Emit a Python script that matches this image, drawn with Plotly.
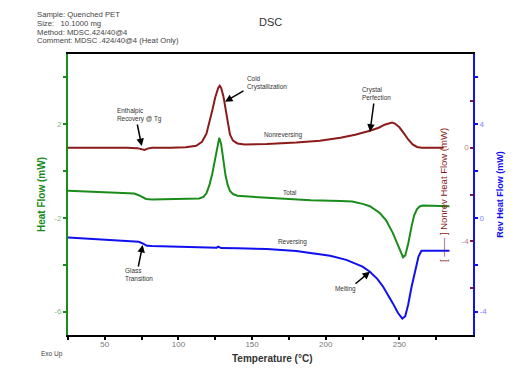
import plotly.graph_objects as go

# ---------------- data ----------------
nonrev_T = [25, 40, 55, 65, 72, 75, 77, 79, 82, 95, 105, 112, 116, 119, 121, 123, 125, 127, 128,
            129, 130.5, 132, 133.5, 135, 137, 140, 145, 160, 180, 196, 210, 220, 230, 236, 240,
            243, 245, 247, 250, 253, 256, 259, 262, 265, 280]
nonrev_V = [0.0, 0.0, 0.02, 0.0, -0.02, -0.08, -0.1, -0.04, 0.0, 0.0, 0.02, 0.08, 0.25, 0.6, 1.05,
            1.6, 2.15, 2.55, 2.64, 2.55, 2.2, 1.6, 1.0, 0.55, 0.3, 0.18, 0.14, 0.16, 0.22, 0.3,
            0.42, 0.55, 0.72, 0.85, 0.98, 1.05, 1.07, 1.03, 0.87, 0.62, 0.35, 0.14, 0.03, 0.0, 0.0]

total_T = [25, 40, 55, 66, 70, 73, 76, 78, 82, 100, 110, 114, 117, 119, 121, 123, 125, 126.5,
           127.7, 129, 130.5, 132, 133.5, 135, 137, 140, 150, 170, 190, 210, 218, 225, 230, 236.7,
           241, 245.6, 249, 252.5, 254, 256, 258.3, 260, 262, 264, 266, 284]
total_V = [-0.84, -0.87, -0.9, -0.93, -0.96, -1.03, -1.13, -1.19, -1.21, -1.2, -1.19, -1.17, -1.1,
           -0.95, -0.6, -0.1, 0.55, 1.1, 1.42, 1.15, 0.5, -0.2, -0.6, -0.85, -0.98, -1.05, -1.1,
           -1.18, -1.25, -1.28, -1.3, -1.4, -1.5, -1.79, -2.1, -2.65, -3.2, -3.68, -3.6, -3.1,
           -2.36, -1.9, -1.62, -1.5, -1.47, -1.5]

rev_T = [25, 40, 55, 70, 73, 76, 78.6, 82, 100, 120, 126, 127, 128, 129, 140, 160, 180, 191, 203,
         214, 225, 230, 235, 239, 242.5, 245.6, 249, 252, 254, 256, 258.3, 261, 263, 265, 284]
rev_V = [-0.84, -0.9, -0.95, -1.0, -1.02, -1.1, -1.19, -1.2, -1.22, -1.25, -1.27, -1.23, -1.27,
         -1.29, -1.3, -1.33, -1.41, -1.5, -1.62, -1.79, -2.08, -2.3, -2.6, -2.94, -3.3, -3.65,
         -4.05, -4.3, -4.2, -3.7, -2.94, -2.15, -1.65, -1.4, -1.4]

x_ticks = [25, 50, 75, 100, 125, 150, 175, 200, 225, 250, 275, 300]
x_labels = ["", "50", "", "100", "", "150", "", "200", "", "250", "", "300"]
hf_ticks = [-6, -4, -2, 0, 2, 4]
hf_labels = ["-6", "", "-2", "", "2", ""]
nr_ticks = [-6, -4, -2, 0, 2]
nr_labels = ["", "-4", "", "0", ""]
rv_ticks = [-4, -2, 0, 2, 4, 6]
rv_labels = ["-4", "", "0", "", "4", ""]

header_lines = ["Sample: Quenched PET", "Size:   10.1000 mg", "Method: MDSC.424/40@4",
                "Comment: MDSC .424/40@4 (Heat Only)"]

# ---------------- layout geometry ----------------
# the page body adds an 8px offset, so the figure is shifted to compensate
W, H = 521, 368
OFF = 8
PL, PR, PT, PB = 68, 473, 54, 335          # plot area in window pixels
L, T = PL - OFF, PT - OFF
R, B = W - PR + OFF, H - PB + OFF


def px(xp):
    return (xp - PL) / (PR - PL)


def py(yp):
    return (PB - yp) / (PB - PT)


RED = "#8b1a1a"
GREEN = "#1a8c1a"
BLUE = "#1010f0"
FONT = "Liberation Sans, Arial, sans-serif"

fig = go.Figure()
fig.add_trace(go.Scatter(x=nonrev_T, y=nonrev_V, mode="lines", yaxis="y2",
                         line=dict(color=RED, width=2), showlegend=False))
fig.add_trace(go.Scatter(x=total_T, y=total_V, mode="lines", yaxis="y",
                         line=dict(color=GREEN, width=2), showlegend=False))
fig.add_trace(go.Scatter(x=rev_T, y=rev_V, mode="lines", yaxis="y3",
                         line=dict(color=BLUE, width=2), showlegend=False))

fig.update_layout(
    width=W, height=H, margin=dict(l=L, r=R, t=T, b=B, autoexpand=False),
    paper_bgcolor="white", plot_bgcolor="white",
    font=dict(family=FONT, size=8, color="#555"),
    xaxis=dict(range=[25, 300], tickmode="array", tickvals=x_ticks, ticktext=x_labels,
               ticks="outside", ticklen=3, tickwidth=1.5, tickcolor="black",
               showline=True, linecolor="black", linewidth=2, mirror=True, automargin=False,
               ticklabelstandoff=-3,
               showgrid=False, zeroline=False, tickfont=dict(size=8, color="#777")),
    yaxis=dict(range=[-7, 5], tickmode="array", tickvals=hf_ticks, ticktext=hf_labels,
               ticks="outside", ticklen=3, tickwidth=1.5, tickcolor=GREEN,
               showline=True, linecolor=GREEN, linewidth=2, automargin=False,
               showgrid=False, zeroline=False, tickfont=dict(size=8, color="#80c080"),
               title=dict(text="<b>Heat Flow (mW)</b>", font=dict(size=10, color=GREEN), standoff=7)),
    yaxis2=dict(range=[-8, 4], overlaying="y", side="right", anchor="x",
                tickmode="array", tickvals=nr_ticks, ticktext=nr_labels,
                ticks="inside", ticklen=3, tickwidth=1.5, tickcolor=RED,
                ticklabelposition="inside", showline=False, automargin=False,
                showgrid=False, zeroline=False, tickfont=dict(size=8, color="#c08080")),
    yaxis3=dict(range=[-5, 7], overlaying="y", side="right", anchor="x",
                tickmode="array", tickvals=rv_ticks, ticktext=rv_labels,
                ticks="outside", ticklen=3, tickwidth=1.5, tickcolor=BLUE,
                showline=True, linecolor=BLUE, linewidth=2, automargin=False,
                showgrid=False, zeroline=False, tickfont=dict(size=8, color="#8080ff"),
                title=dict(text="<b>Rev Heat Flow (mW)</b>", font=dict(size=9, color=BLUE), standoff=10)),
)

ann = []
# header text
for i, line in enumerate(header_lines):
    ann.append(dict(text=line, xref="paper", yref="paper", x=px(35), y=py(15 + 8.6 * i),
                    xanchor="left", yanchor="middle", showarrow=False,
                    font=dict(size=7.7, color="#444")))
ann.append(dict(text="DSC", xref="paper", yref="paper", x=px(270), y=py(22),
                xanchor="center", yanchor="middle", showarrow=False,
                font=dict(size=11, color="#333")))
ann.append(dict(text="Exo Up", xref="paper", yref="paper", x=px(39), y=py(354),
                xanchor="left", yanchor="middle", showarrow=False,
                font=dict(size=6.5, color="#444")))
ann.append(dict(text="<b>Temperature (°C)</b>", xref="paper", yref="paper", x=px(272), y=py(358),
                xanchor="center", yanchor="middle", showarrow=False,
                font=dict(size=10, color="#333")))
ann.append(dict(text="[ —— ] Nonrev Heat Flow (mW)", xref="paper", yref="paper",
                x=px(443), y=py(195), xanchor="center", yanchor="middle", textangle=-90,
                showarrow=False, font=dict(size=9.5, color=RED)))

# curve labels (text positions in window pixels)
labels = [("Cold<br>Crystallization", 245, 83), ("Crystal<br>Perfection", 360, 93),
          ("Nonreversing", 262, 135), ("Enthalpic<br>Recovery @ Tg", 115, 115),
          ("Total", 281, 192), ("Reversing", 276, 241.5), ("Glass<br>Transition", 123, 274),
          ("Melting", 333, 289)]
for txt, xx, yy in labels:
    ann.append(dict(text=txt, xref="paper", yref="paper", x=px(xx), y=py(yy),
                    xanchor="left", yanchor="middle", align="left", showarrow=False,
                    font=dict(size=6.4, color="#333")))

# arrows: (head x, head y, tail x, tail y) in window pixels
arrows = [(225, 101.7, 245, 90), (370, 131.7, 374, 102), (141.7, 146, 137, 123),
          (142.7, 245, 138, 268), (370, 271.7, 354, 285)]
for hx, hy, tx, ty in arrows:
    ann.append(dict(text="", xref="paper", yref="paper", x=px(hx), y=py(hy),
                    ax=tx - hx, ay=ty - hy, showarrow=True, arrowhead=2, arrowsize=1,
                    arrowwidth=1.5, arrowcolor="black"))

fig.update_layout(annotations=ann)
fig.write_html("out.html")
